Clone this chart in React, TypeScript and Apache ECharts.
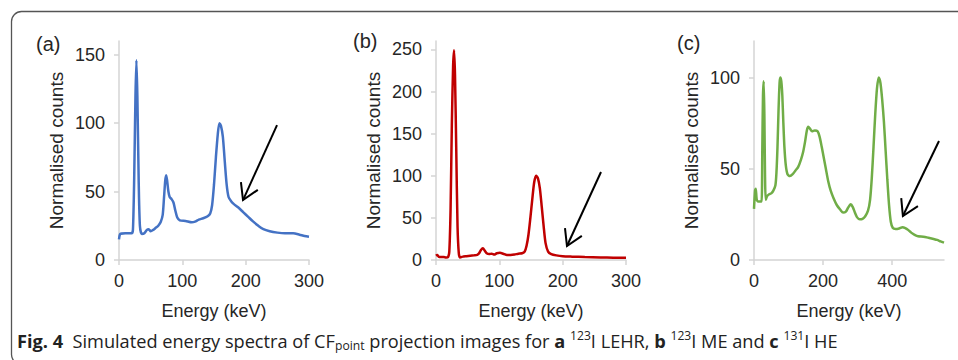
import React, { useEffect, useRef } from "react";
import * as echarts from "echarts";

// ---- Data ----
// (a) 123I LEHR
const energyA = [0, 2, 10, 20, 22, 24, 26, 27.5, 29, 31, 33, 36, 40, 44, 47, 50, 54, 58, 62, 66, 69, 71, 73, 74.5, 76, 78, 80, 83, 86, 89, 92, 96, 105, 115, 120, 126, 133, 140, 144, 147, 150, 153, 156, 158.5, 161, 164, 167, 170, 173, 177, 181, 188, 196, 204, 212, 220, 228, 238, 250, 262, 275, 285, 293, 300];
const countsA = [15, 19, 19.5, 19.5, 22, 60, 120, 146, 120, 60, 25, 19, 19.5, 22, 22.5, 21, 22, 23.5, 25, 28, 33, 45, 58, 62, 58, 50, 46, 44.5, 42, 36, 31, 29, 28.5, 27.5, 28, 29.5, 30.5, 32, 34, 40, 55, 75, 92, 100, 98, 90, 72, 55, 46, 43, 41, 38.5, 35, 31.5, 28, 25, 22.5, 21, 20, 19.5, 19.5, 18.5, 17.5, 17];

// (b) 123I ME
const energyB = [0, 2, 4, 8, 12, 16, 19, 21, 23, 25, 27, 28.5, 30, 32, 34, 36, 38, 42, 48, 54, 60, 65, 68, 71, 74, 77, 80, 84, 88, 92, 96, 101, 106, 112, 118, 124, 130, 136, 140, 143, 146, 149, 152, 155, 158, 161, 164, 167, 170, 173, 177, 182, 190, 200, 215, 235, 260, 280, 300];
const countsB = [5, 6, 4, 3.5, 3.5, 3, 3.5, 10, 60, 160, 230, 249, 220, 130, 40, 8, 3, 4, 4.5, 5, 5.5, 6, 8, 12, 14, 11, 8, 7, 7.5, 6.5, 8, 8.5, 7.5, 6, 6, 6.5, 7.5, 8, 10, 17, 30, 50, 72, 92, 100, 97, 85, 63, 40, 20, 10, 7, 5.5, 4.5, 4, 3.5, 3, 2.8, 2.6];

// (c) 131I HE
const energyC = [0, 3, 5, 8, 12, 18, 22, 24, 26, 28, 30, 32, 34, 38, 44, 50, 56, 62, 65, 68, 71, 74, 76, 79, 82, 85, 88, 92, 97, 104, 112, 120, 128, 136, 142, 148, 153, 157, 162, 168, 176, 184, 190, 196, 202, 208, 215, 222, 230, 240, 250, 258, 266, 272, 280, 286, 292, 298, 306, 314, 322, 330, 336, 341, 346, 351, 356, 361, 366, 371, 376, 381, 386, 391, 396, 402, 410, 420, 430, 438, 446, 455, 465, 475, 490, 505, 520, 530, 540, 550];
const countsC = [28, 38, 39, 33, 32, 32, 32, 60, 90, 98, 80, 45, 33, 35, 36, 36.5, 38, 41, 48, 62, 82, 97, 100, 98, 90, 75, 62, 52, 47, 46, 47, 49, 51, 55, 59, 65, 71, 73, 72, 70.5, 71, 70.5, 67.5, 62, 56, 50, 43, 38, 34, 30, 27.5, 26, 26.5, 28.5, 30.5, 29, 26, 23.5, 22.3, 22.5, 24, 27, 33, 45, 62, 80, 94, 100, 97, 88, 76, 60, 44, 30, 21, 17.5, 17, 17.3, 18, 17.5, 16.5, 15, 13.8, 13, 12.8, 12.2, 11.5, 11, 10.2, 9.5];

// Tick labels
const xTicksAB = [0, 100, 200, 300];
const xTicksC = [0, 200, 400];
const yTicksA = [0, 50, 100, 150];
const yTicksB = [0, 50, 100, 150, 200, 250];
const yTicksC = [0, 50, 100];

// Arrow annotations (data coordinates: from -> tip)
const arrowA = [[249.5, 98.6], [195.8, 43.8]];
const arrowB = [[260.5, 104.5], [206.8, 16.6]];
const arrowC = [[535.5, 65.2], [431, 24.1]];

const panelLabels = ["(a)", "(b)", "(c)"];
const yAxisName = "Normalised counts";
const xAxisName = "Energy (keV)";

const zip = (xs: number[], ys: number[]) => xs.map((x, i) => [x, ys[i]]);

const FONT = "'Liberation Sans', Arial, sans-serif";
const TXT = "#262626";
const AXIS = "#d4d4d4";

export default function App() {
  const ref = useRef<HTMLDivElement>(null);

  useEffect(() => {
    if (!ref.current) return;
    const chart = echarts.init(ref.current, null, { renderer: "svg" });

    const panels = [
      { grid: { left: 119, top: 41, width: 190, height: 219 }, xMax: 300, xTicks: xTicksAB, yMax: 160, yTicks: yTicksA, color: "#4472C4", data: zip(energyA, countsA), arrow: arrowA, labelX: 36, labelY: 44 },
      { grid: { left: 436, top: 41, width: 190, height: 219 }, xMax: 300, xTicks: xTicksAB, yMax: 260, yTicks: yTicksB, color: "#C00000", data: zip(energyB, countsB), arrow: arrowB, labelX: 353, labelY: 41 },
      { grid: { left: 754, top: 41, width: 190, height: 219 }, xMax: 550, xTicks: xTicksC, yMax: 120, yTicks: yTicksC, color: "#70AD47", data: zip(energyC, countsC), arrow: arrowC, labelX: 677, labelY: 43 },
    ];

    const option: any = {
      animation: false,
      backgroundColor: "#ffffff",
      grid: panels.map((p) => ({ ...p.grid, outerBoundsMode: "none", containLabel: false })),
      xAxis: panels.map((p, i) => ({
        type: "value",
        gridIndex: i,
        min: 0,
        max: p.xMax,
        name: xAxisName,
        nameLocation: "middle",
        nameGap: 42,
        nameTextStyle: { fontSize: 18, color: TXT, fontFamily: FONT },
        axisLine: { show: true, lineStyle: { color: AXIS, width: 1.5 } },
        axisTick: { show: true, length: 5, lineStyle: { color: AXIS, width: 1.5 }, customValues: p.xTicks },
        axisLabel: { fontSize: 18, color: TXT, fontFamily: FONT, margin: 12, customValues: p.xTicks },
        splitLine: { show: false },
      })),
      yAxis: panels.map((p, i) => ({
        type: "value",
        gridIndex: i,
        min: 0,
        max: p.yMax,
        name: yAxisName,
        nameLocation: "middle",
        nameGap: 53,
        nameTextStyle: { fontSize: 19, color: TXT, fontFamily: FONT },
        axisLine: { show: true, lineStyle: { color: AXIS, width: 1.5 } },
        axisTick: { show: true, length: 5, lineStyle: { color: AXIS, width: 1.5 }, customValues: p.yTicks },
        axisLabel: { fontSize: 18, color: TXT, fontFamily: FONT, margin: 14, customValues: p.yTicks },
        splitLine: { show: false },
      })),
      series: panels.map((p, i) => ({
        type: "line",
        xAxisIndex: i,
        yAxisIndex: i,
        data: p.data,
        showSymbol: false,
        smooth: 0.25,
        lineStyle: { color: p.color, width: 2.5 },
        itemStyle: { color: p.color },
      })),
    };
    chart.setOption(option);

    const graphic: any[] = [
      {
        type: "rect",
        z: 0,
        shape: { x: 11.5, y: 11.5, width: 1000, height: 353, r: 10 },
        style: { fill: "none", stroke: "#555", lineWidth: 1.3 },
      },
    ];

    panels.forEach((p, i) => {
      graphic.push({
        type: "text",
        x: p.labelX,
        y: p.labelY,
        style: { text: panelLabels[i], fontSize: 20, fontFamily: FONT, fill: TXT, textVerticalAlign: "middle" },
      });
      const s = chart.convertToPixel({ gridIndex: i } as any, p.arrow[0]) as number[];
      const t = chart.convertToPixel({ gridIndex: i } as any, p.arrow[1]) as number[];
      const ang = Math.atan2(s[1] - t[1], s[0] - t[0]);
      const L = 18;
      const d = (31 * Math.PI) / 180;
      const a1 = [t[0] + L * Math.cos(ang - d), t[1] + L * Math.sin(ang - d)];
      const a2 = [t[0] + L * Math.cos(ang + d), t[1] + L * Math.sin(ang + d)];
      graphic.push({
        type: "line",
        z: 10,
        shape: { x1: s[0], y1: s[1], x2: t[0], y2: t[1] },
        style: { stroke: "#000", lineWidth: 2 },
      });
      graphic.push({
        type: "polyline",
        z: 10,
        shape: { points: [a1, t, a2] },
        style: { stroke: "#000", lineWidth: 2, fill: null },
      });
    });

    const CAP = "'Open Sans', 'Noto Sans', sans-serif";
    graphic.push({
      type: "text",
      x: 17,
      y: 341,
      scaleX: 1.01,
      style: {
        text:
          "{b|Fig. 4}{n|  Simulated energy spectra of CF}{sub|point}{n| projection images for }{b|a}{n| }{sup|123}{n|I LEHR, }{b|b}{n| }{sup|123}{n|I ME and }{b|c}{n| }{sup|131}{n|I HE}",
        textVerticalAlign: "middle",
        fill: "#222",
        fontFamily: CAP,
        fontSize: 18,
        rich: {
          b: { fontFamily: CAP, fontSize: 18, fontWeight: "bold", fill: "#222", lineHeight: 22 },
          n: { fontFamily: CAP, fontSize: 18, fill: "#222", lineHeight: 22 },
          sub: { fontFamily: CAP, fontSize: 12, fill: "#222", lineHeight: 12, verticalAlign: "bottom" },
          sup: { fontFamily: CAP, fontSize: 12, fill: "#222", lineHeight: 12, verticalAlign: "top" },
        },
      },
    });

    chart.setOption({ graphic });

    return () => chart.dispose();
  }, []);

  return (
    <div
      ref={ref}
      style={{ position: "absolute", left: 0, top: 0, width: 958, height: 360, background: "#fff" }}
    />
  );
}
